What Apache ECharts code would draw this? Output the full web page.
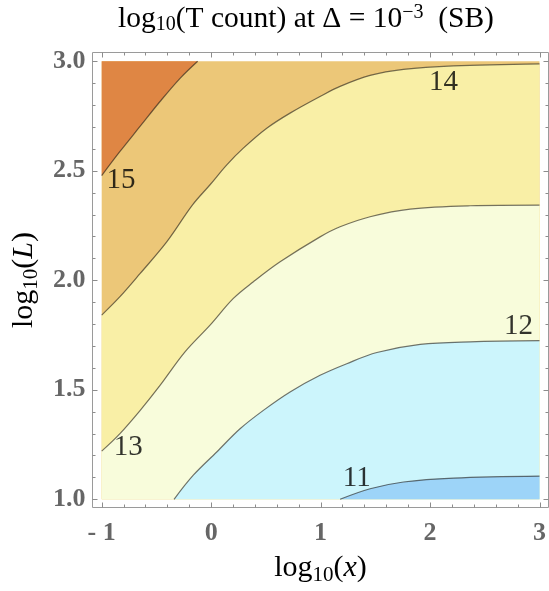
<!DOCTYPE html>
<html>
<head>
<meta charset="utf-8">
<script src="https://cdn.jsdelivr.net/npm/echarts@6/dist/echarts.min.js"></script>
<style>html,body{margin:0;padding:0;background:#fff;}#c{width:549px;height:591px;}</style>
</head>
<body>
<div id="c"></div>
<script>
// ---- data ----
const xTicks = [-1, 0, 1, 2, 3];
const xMinorTicks = [-0.8,-0.6,-0.4,-0.2,0.2,0.4,0.6,0.8,1.2,1.4,1.6,1.8,2.2,2.4,2.6,2.8];
const yTicks = [1.0, 1.5, 2.0, 2.5, 3.0];
const yMinorTicks = [1.1,1.2,1.3,1.4,1.6,1.7,1.8,1.9,2.1,2.2,2.3,2.4,2.6,2.7,2.8,2.9];
const contour15 = [[-1.0,2.478],[-0.833,2.588],[-0.650,2.702],[-0.467,2.816],[-0.284,2.922],[-0.123,3.0]];
const contour14 = [[-1.0,1.841],[-0.833,1.925],[-0.650,2.030],[-0.406,2.175],[-0.170,2.344],[-0.010,2.436],[0.143,2.527],[0.294,2.603],[0.508,2.694],[0.721,2.763],[0.995,2.839],[1.178,2.885],[1.452,2.935],[1.757,2.963],[2.214,2.979],[3.0,2.988]];
const contour13 = [[-1.0,1.220],[-0.833,1.300],[-0.650,1.405],[-0.467,1.520],[-0.239,1.673],[-0.010,1.795],[0.203,1.917],[0.386,1.993],[0.630,2.084],[0.995,2.198],[1.178,2.244],[1.452,2.290],[1.818,2.325],[2.367,2.340],[3.0,2.343]];
const contour12 = [[-0.339,1.0],[-0.163,1.110],[0.051,1.216],[0.264,1.322],[0.477,1.406],[0.721,1.490],[0.995,1.566],[1.239,1.619],[1.514,1.670],[1.910,1.707],[2.367,1.719],[3.0,1.724]];
const contour11 = [[1.178,1.0],[1.452,1.048],[1.757,1.079],[2.214,1.097],[3.0,1.106]];
const labelX = [-0.823, 2.123, -0.757, 2.808, 1.331];
const labelL = [2.458, 2.901, 1.239, 1.788, 1.097];
const labelText = ['15', '14', '13', '12', '11'];

// ---- layout / styling ----
const SERIF = "'Liberation Serif', 'Times New Roman', serif";
const C = {
  orange: '#DF8644', tan: '#ECC778', yellow: '#F9EFA6', ltyellow: '#F8FCDB', cyan: '#CCF5FC', blue: '#9DD4F8'
};
const lineCol = 'rgba(30,25,20,0.6)';
const tickCol = '#8c8c8c';
const MAJOR = 5, MINOR = 3;
// data box (pixels) and frame box (pixels)
const D = { l: 101.7, r: 539.5, t: 61.2, b: 499.3 };
const F = { l: 92.5, r: 548.5, t: 52.5, b: 507.5 };
const X0 = -1, X1 = 3, Y0 = 1, Y1 = 3;
const pxX = (D.r - D.l) / (X1 - X0), pxY = (D.b - D.t) / (Y1 - Y0);
const fxMin = X0 - (D.l - F.l) / pxX, fxMax = X1 + (F.r - D.r) / pxX;
const fyMin = Y0 - (F.b - D.b) / pxY, fyMax = Y1 + (D.t - F.t) / pxY;

function contourSeries(data, fill, origin) {
  return {
    type: 'line', xAxisIndex: 0, yAxisIndex: 0, data: data,
    smooth: 0.35, symbol: 'none', silent: true, animation: false,
    lineStyle: { color: lineCol, width: 1.2 },
    areaStyle: { color: fill, opacity: 1, origin: origin }
  };
}

// frame tick marks drawn through the frame axes' scale
function tickSeries(isX) {
  const major = isX ? xTicks : yTicks, minor = isX ? xMinorTicks : yMinorTicks;
  const data = major.map(v => [v, MAJOR]).concat(minor.map(v => [v, MINOR]));
  return {
    type: 'custom', xAxisIndex: 1, yAxisIndex: 1, silent: true, z: 6, clip: false,
    data: data,
    renderItem: function (params, api) {
      const cs = params.coordSys;
      const v = api.value(0), len = api.value(1);
      const st = { stroke: tickCol, lineWidth: 1 };
      if (isX) {
        const px = Math.round(api.coord([v, fyMin])[0]) + 0.5;
        const yb = cs.y + cs.height, yt = cs.y;
        return { type: 'group', children: [
          { type: 'line', shape: { x1: px, y1: yb, x2: px, y2: yb - len }, style: st },
          { type: 'line', shape: { x1: px, y1: yt, x2: px, y2: yt + len }, style: st }
        ]};
      } else {
        const py = Math.round(api.coord([fxMin, v])[1]) + 0.5;
        const xl = cs.x, xr = cs.x + cs.width;
        return { type: 'group', children: [
          { type: 'line', shape: { x1: xl, y1: py, x2: xl + len, y2: py }, style: st },
          { type: 'line', shape: { x1: xr, y1: py, x2: xr - len, y2: py }, style: st }
        ]};
      }
    }
  };
}

const nameRich = {
  m: { fontFamily: SERIF, fontSize: 30, lineHeight: 34, color: '#000', fontWeight: 'normal' },
  i: { fontFamily: SERIF, fontSize: 30, lineHeight: 34, color: '#000', fontStyle: 'italic', fontWeight: 'normal' },
  s: { fontFamily: SERIF, fontSize: 21, lineHeight: 17, color: '#000', verticalAlign: 'bottom', fontWeight: 'normal' }
};

const xAxisFrame = {
  gridIndex: 1, type: 'value', position: 'bottom', min: fxMin, max: fxMax,
  axisLine: { show: false, onZero: false }, axisTick: { show: false }, splitLine: { show: false },
  axisLabel: {
    show: true, customValues: xTicks, margin: 13,
    fontFamily: SERIF, fontSize: 26, fontWeight: 'bold', color: '#666',
    formatter: v => (v < 0 ? '- ' + Math.abs(Math.round(v)) : String(Math.round(v)))
  },
  name: '{m|log}{s|10}{m|(}{i|x}{m|)}', nameLocation: 'middle', nameGap: 44,
  nameTextStyle: { rich: nameRich }
};
const yAxisFrame = {
  gridIndex: 1, type: 'value', position: 'left', min: fyMin, max: fyMax,
  axisLine: { show: false, onZero: false }, axisTick: { show: false }, splitLine: { show: false },
  axisLabel: {
    show: true, customValues: yTicks, margin: 7,
    fontFamily: SERIF, fontSize: 26, fontWeight: 'bold', color: '#666',
    formatter: v => v.toFixed(1)
  },
  name: '{m|log}{s|10}{m|(}{i|L}{m|)}', nameLocation: 'middle', nameGap: 51,
  nameTextStyle: { rich: nameRich }
};

const chart = echarts.init(document.getElementById('c'), null, { renderer: 'canvas' });
chart.setOption({
  animation: false,
  backgroundColor: '#fff',
  title: {
    text: '{m|log}{s|10}{m|(T count) at Δ = 10}{p|−3}{m|  (SB)}',
    left: 118, top: 3, padding: 0,
    textStyle: {
      fontWeight: 'normal',
      rich: {
        m: { fontFamily: SERIF, fontSize: 29.5, lineHeight: 32, color: '#000', fontWeight: 'normal' },
        s: { fontFamily: SERIF, fontSize: 20, lineHeight: 14, color: '#000', verticalAlign: 'bottom', fontWeight: 'normal' },
        p: { fontFamily: SERIF, fontSize: 20, lineHeight: 11, color: '#000', verticalAlign: 'top', fontWeight: 'normal' }
      }
    }
  },
  grid: [
    { left: D.l, top: D.t, width: D.r - D.l, height: D.b - D.t, show: true, backgroundColor: C.tan, borderWidth: 0 },
    { left: F.l, top: F.t, width: F.r - F.l, height: F.b - F.t, show: true, backgroundColor: 'rgba(0,0,0,0)', borderColor: '#9a9a9a', borderWidth: 1 }
  ],
  xAxis: [
    { gridIndex: 0, type: 'value', min: X0, max: X1, show: false },
    xAxisFrame
  ],
  yAxis: [
    { gridIndex: 0, type: 'value', min: Y0, max: Y1, show: false },
    yAxisFrame
  ],
  series: [
    contourSeries(contour15, C.orange, 'end'),
    contourSeries(contour14, C.yellow, 'start'),
    contourSeries(contour13, C.ltyellow, 'start'),
    contourSeries(contour12, C.cyan, 'start'),
    contourSeries(contour11, C.blue, 'start'),
    {
      type: 'scatter', xAxisIndex: 0, yAxisIndex: 0, symbolSize: 0, silent: true, z: 5,
      data: labelText.map((t, i) => [labelX[i], labelL[i], t]),
      label: {
        show: true, position: 'inside', formatter: p => p.value[2],
        fontFamily: SERIF, fontSize: 29, color: '#000'
      }
    },
    tickSeries(true),
    tickSeries(false)
  ]
});
</script>
</body>
</html>
